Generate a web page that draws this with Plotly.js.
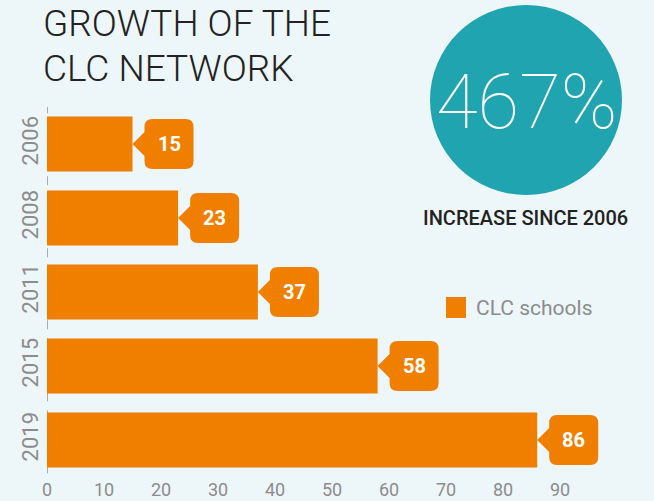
<!DOCTYPE html>
<html>
<head>
<meta charset="utf-8">
<script src="https://cdn.plot.ly/plotly-3.0.1.min.js"></script>
<style>
html,body{margin:0;padding:0;background:#EDF6F9;}
#chart{width:654px;height:501px;}
</style>
</head>
<body>
<div id="chart"></div>
<script>
var years = ["2006", "2008", "2011", "2015", "2019"];
var schools = [15, 23, 37, 58, 86];
var xTicks = [0, 10, 20, 30, 40, 50, 60, 70, 80, 90];
var seriesName = "CLC schools";
var titleLines = ["GROWTH OF THE", "CLC NETWORK"];
var bigStat = "467%";
var bigStatCaption = "INCREASE SINCE 2006";

var ORANGE = "#F07F00";
var TEAL = "#20A4AF";
var BG = "#EDF6F9";
var GREY = "#8C8C8C";
var DARK = "#222222";

var rowIdx = years.map(function (_, i) { return i; });

var trace = {
  type: "bar",
  orientation: "h",
  x: schools,
  y: rowIdx,
  text: years,
  name: seriesName,
  marker: {color: ORANGE},
  textposition: "none",
  showlegend: false,
  hoverinfo: "x+text"
};

var calloutPath = "M0,0 L12,-12 L12,-17 Q12,-25 20,-25 L53,-25 Q61,-25 61,-17 L61,17 Q61,25 53,25 L20,25 Q12,25 12,17 L12,12 Z";

var shapes = [
  {type: "line", xref: "x", yref: "paper", x0: 0, x1: 0, y0: 0.01, y1: 1.0,
   line: {color: "#AAAAAA", width: 2, dash: "dash"}, layer: "below"},
  {type: "circle", xref: "paper", yref: "paper", x0: 0.6719, x1: 1.0088, y0: 0.7622, y1: 1.2757,
   fillcolor: TEAL, line: {width: 0}},
  {type: "rect", xref: "paper", yref: "paper", x0: 0.7, x1: 0.7351, y0: 0.4297, y1: 0.4865,
   fillcolor: ORANGE, line: {width: 0}}
];
var annotations = [];

for (var i = 0; i < years.length; i++) {
  shapes.push({
    type: "path", xref: "x", yref: "y",
    xsizemode: "pixel", ysizemode: "pixel",
    xanchor: schools[i], yanchor: rowIdx[i],
    path: calloutPath,
    fillcolor: ORANGE, line: {width: 0}
  });
  annotations.push({
    x: schools[i], y: rowIdx[i], xref: "x", yref: "y",
    xshift: 36.5, showarrow: false,
    text: String(schools[i]),
    font: {family: "Roboto", size: 20, color: "#FFFFFF", weight: 700}
  });
}

annotations.push(
  {xref: "paper", yref: "paper", x: -0.0105, y: 1.2257, xanchor: "left", yanchor: "middle",
   showarrow: false, text: titleLines[0],
   font: {family: "Roboto", size: 37, color: DARK, weight: 300}},
  {xref: "paper", yref: "paper", x: -0.0105, y: 1.1041, xanchor: "left", yanchor: "middle",
   showarrow: false, text: titleLines[1],
   font: {family: "Roboto", size: 37, color: DARK, weight: 300}},
  {xref: "paper", yref: "paper", x: 0.8404, y: 1.0135, xanchor: "center", yanchor: "middle",
   showarrow: false, text: bigStat,
   font: {family: "Roboto", size: 76, color: "#FFFFFF", weight: 100}},
  {xref: "paper", yref: "paper", x: 0.8395, y: 0.7, xanchor: "center", yanchor: "middle",
   showarrow: false, text: bigStatCaption,
   font: {family: "Roboto", size: 20, color: DARK, weight: 500}},
  {xref: "paper", yref: "paper", x: 0.7491, y: 0.4568, xanchor: "left", yanchor: "middle",
   showarrow: false, text: seriesName,
   font: {family: "Roboto", size: 21, color: GREY}}
);

var layout = {
  width: 654, height: 501,
  margin: {l: 47, r: 37, t: 107, b: 24, pad: 0},
  paper_bgcolor: BG, plot_bgcolor: BG,
  bargap: 0.257,
  showlegend: false,
  xaxis: {
    range: [0, 100], tickvals: xTicks, ticktext: xTicks.map(String),
    showgrid: false, zeroline: false, showline: false, ticks: "",
    tickfont: {family: "Roboto", size: 18, color: GREY}, fixedrange: true
  },
  yaxis: {
    range: [years.length - 0.5, -0.5],
    tickvals: rowIdx, ticktext: years,
    showgrid: false, zeroline: false, showline: false, ticks: "",
    tickangle: -90, ticklabelstandoff: 4,
    tickfont: {family: "Roboto", size: 22, color: GREY}, fixedrange: true
  },
  shapes: shapes,
  annotations: annotations
};

Plotly.newPlot("chart", [trace], layout, {displayModeBar: false, staticPlot: true});
</script>
</body>
</html>
